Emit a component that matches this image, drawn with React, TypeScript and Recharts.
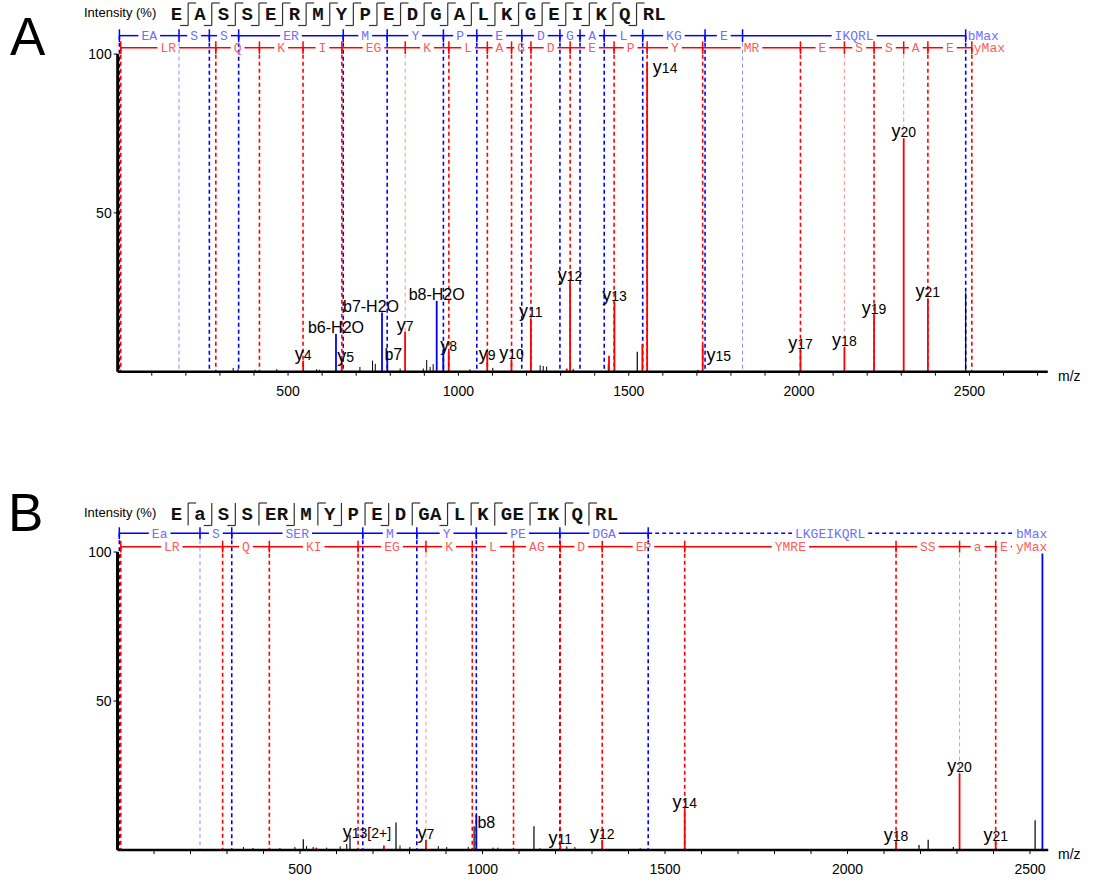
import React from 'react';
import { ComposedChart, XAxis, YAxis, ReferenceLine, Scatter } from 'recharts';

const FIG_W = 1096;
const FIG_H = 882;
const Y_TOP = 110;
const Y_AXIS_W = 40;
const X_AXIS_H = 30;

const BLUE = '#0000ff';
const RED = '#ff0000';
const BLUE_FAINT = '#8c8cff';
const RED_FAINT = '#ff8f8f';
const BLUE_TXT = '#6f6fff';
const RED_TXT = '#ff5c5c';
const MONO = "'Liberation Mono', 'Courier New', monospace";
const SANS = "'Liberation Sans', Arial, sans-serif";
const ROW_CHAR_W = 7.8; // 13px mono advance

// ---------------- panel A ----------------
const residuesA = ['E', 'A', 'S', 'S', 'E', 'R', 'M', 'Y', 'P', 'E', 'D', 'G', 'A', 'L', 'K', 'G', 'E', 'I', 'K', 'Q', 'R', 'L'];
const seqTopHooksA = [1, 2, 3, 4, 5, 6, 7, 8, 9, 10, 11, 12, 13, 14, 15, 16, 17, 18, 19, 20];
const seqBottomHooksA = [1, 2, 3, 4, 5, 6, 7, 8, 9, 10, 11, 12, 13, 14, 15, 16, 17, 18, 19, 20];

const bTicksA = [5, 180, 269, 355, 662, 791, 956, 1054, 1186, 1298, 1357, 1428, 1541, 1724, 1834, 2489];
const bLabelsA = ['EA', 'S', 'S', 'ER', 'M', 'Y', 'P', 'E', 'D', 'G', 'A', 'L', 'KG', 'E', 'IKQRL'];
const bFaintA = [180, 1834];
const yTicksA = [9, 288, 416, 544, 658, 844, 972, 1085, 1156, 1213, 1328, 1457, 1554, 1717, 2004, 2133, 2220, 2307, 2378, 2507];
const yLabelsA = ['LR', 'Q', 'K', 'I', 'EG', 'K', 'L', 'A', 'G', 'D', 'E', 'P', 'Y', 'MR', 'E', 'S', 'S', 'A', 'E'];
const yFaintA = [844, 2133, 2307];

type Peak = { mz: number; int: number; ion: 'y' | 'b' | 'n'; label: string };

const peaksA: Peak[] = [
  { mz: 544.4, int: 3.5, ion: 'y', label: 'y4' },
  { mz: 657.5, int: 2.7, ion: 'y', label: 'y5' },
  { mz: 843.5, int: 12.6, ion: 'y', label: 'y7' },
  { mz: 971.6, int: 6.3, ion: 'y', label: 'y8' },
  { mz: 1084.7, int: 5.8, ion: 'y', label: 'y9' },
  { mz: 1155.7, int: 3.7, ion: 'y', label: 'y10' },
  { mz: 1212.8, int: 16.8, ion: 'y', label: 'y11' },
  { mz: 1318, int: 1, ion: 'y', label: '' },
  { mz: 1327.8, int: 28.3, ion: 'y', label: 'y12' },
  { mz: 1442, int: 5, ion: 'y', label: '' },
  { mz: 1458, int: 22, ion: 'y', label: 'y13' },
  { mz: 1540, int: 8.7, ion: 'y', label: '' },
  { mz: 1554, int: 97.6, ion: 'y', label: 'y14' },
  { mz: 1717, int: 8.4, ion: 'y', label: 'y15' },
  { mz: 2004, int: 6.8, ion: 'y', label: 'y17' },
  { mz: 2133, int: 7.9, ion: 'y', label: 'y18' },
  { mz: 2220, int: 17.8, ion: 'y', label: 'y19' },
  { mz: 2307, int: 73.5, ion: 'y', label: 'y20' },
  { mz: 2378, int: 23.1, ion: 'y', label: 'y21' },
  { mz: 640.7, int: 11.9, ion: 'b', label: 'b6-H2O' },
  { mz: 775.8, int: 18.6, ion: 'b', label: 'b7-H2O' },
  { mz: 791.3, int: 5.8, ion: 'b', label: 'b7' },
  { mz: 936.3, int: 22.3, ion: 'b', label: 'b8-H2O' },
  { mz: 955.7, int: 7.1, ion: 'b', label: '' },
  { mz: 1525, int: 6.3, ion: 'n', label: '' },
  { mz: 2489, int: 24.9, ion: 'n', label: '' },
];

const noiseA: [number, number][] = [
  [339, 1.2], [353, 0.8], [403, 0.6], [467, 0.8], [584, 0.8], [592, 0.6], [711, 1.5], [748, 3.5],
  [756, 2.5], [829, 1], [897, 1], [907, 3.7], [917, 1.5], [926, 2.4], [1034, 0.8], [1101, 1.2],
  [1240, 2], [1249, 1.8], [1259, 1.6], [1337, 0.9], [1440, 2.5], [1703, 0.6],
];

const nudgesA: Record<string, [number, number]> = {
  y14: [18, 12], y15: [16, 17], 'b7-H2O': [-11, 0], b7: [6, 8], y9: [0, 8], y5: [4, 0],
};

// ---------------- panel B ----------------
const residuesB = ['E', 'a', 'S', 'S', 'E', 'R', 'M', 'Y', 'P', 'E', 'D', 'G', 'A', 'L', 'K', 'G', 'E', 'I', 'K', 'Q', 'R', 'L'];
const seqTopHooksB = [1, 4, 7, 9, 11, 13, 14, 15, 17, 19, 20];
const seqBottomHooksB = [2, 3, 6, 8, 10, 13];

const bTicksB = [5, 226, 313, 672, 820, 983, 1212, 1454, 2534];
const bLabelsB = ['Ea', 'S', 'SER', 'M', 'Y', 'PE', 'DGA', 'LKGEIKQRL'];
const bFaintB = [226];
const yTicksB = [9, 288, 416, 659, 845, 972, 1085, 1213, 1328, 1554, 2133, 2307, 2406, 2535];
const yLabelsB = ['LR', 'Q', 'KI', 'EG', 'K', 'L', 'AG', 'D', 'EP', 'YMRE', 'SS', 'a', 'E'];
const yFaintB = [845, 2307];

const peaksB: Peak[] = [
  { mz: 545, int: 0.8, ion: 'y', label: '' },
  { mz: 730, int: 1.5, ion: 'y', label: 'y13[2+]' },
  { mz: 845, int: 3.4, ion: 'y', label: 'y7' },
  { mz: 1213, int: 1.7, ion: 'y', label: 'y11' },
  { mz: 1328, int: 3.4, ion: 'y', label: 'y12' },
  { mz: 1554, int: 13.6, ion: 'y', label: 'y14' },
  { mz: 2133, int: 2.8, ion: 'y', label: 'y18' },
  { mz: 2307, int: 25.7, ion: 'y', label: 'y20' },
  { mz: 2406, int: 2.8, ion: 'y', label: 'y21' },
  { mz: 983, int: 11.7, ion: 'b', label: 'b8' },
  { mz: 2534, int: 99.5, ion: 'b', label: '' },
  { mz: 509, int: 3.6, ion: 'n', label: '' },
  { mz: 637, int: 5, ion: 'n', label: '' },
  { mz: 763, int: 9.2, ion: 'n', label: '' },
  { mz: 977, int: 8, ion: 'n', label: '' },
  { mz: 1141, int: 8, ion: 'n', label: '' },
  { mz: 2196, int: 1.7, ion: 'n', label: '' },
  { mz: 2221, int: 3.4, ion: 'n', label: '' },
  { mz: 2290, int: 1, ion: 'n', label: '' },
  { mz: 2514, int: 10, ion: 'n', label: '' },
];

const noiseB: [number, number][] = [
  [345, 1], [371, 0.7], [445, 0.7], [486, 1], [518, 1.3], [536, 1], [573, 0.8], [610, 1.2],
  [628, 2], [774, 1.5], [801, 1], [879, 1.3], [902, 1], [961, 1], [1029, 0.8], [1042, 0.8],
  [1158, 0.6], [1231, 1.2], [1253, 1], [1432, 0.6],
];

const nudgesB: Record<string, [number, number]> = {
  'y13[2+]': [-17, -7], b8: [10, 14],
};

const xTicksA = [100, 200, 300, 400, 500, 600, 700, 800, 900, 1000, 1100, 1200, 1300, 1400, 1500, 1600, 1700, 1800, 1900, 2000, 2100, 2200, 2300, 2400, 2500, 2600, 2700];
const xTicksB = [100, 200, 300, 400, 500, 600, 700, 800, 900, 1000, 1100, 1200, 1300, 1400, 1500, 1600, 1700, 1800, 1900, 2000, 2100, 2200, 2300, 2400, 2500];
const yTicks = [50, 100];

type RowText = { mz: number; v: number; text: string; anchor: string; color: string };

function buildRow(
  ticks: number[], labels: string[], faint: number[], row: number,
  color: string, faintColor: string, textColor: string,
  ppu: number, xMax: number, maxText: string, endMode: boolean, dashLast: boolean, key: string,
) {
  const lines: React.ReactElement[] = [];
  const dashed: React.ReactElement[] = [];
  const texts: RowText[] = [];
  const last = ticks.length - 1;
  const maxW = maxText.length * ROW_CHAR_W;
  const maxStart = endMode ? xMax - (maxW + 3) / ppu : ticks[last] + 2 / ppu;
  texts.push({
    mz: endMode ? xMax - 1 / ppu : maxStart, v: row, text: maxText,
    anchor: endMode ? 'end' : 'start', color: textColor,
  });
  labels.forEach((lab, i) => {
    const a = ticks[i];
    const isLast = i === labels.length - 1;
    let b = ticks[i + 1];
    if (isLast && endMode) b = Math.min(b, maxStart - 2 / ppu);
    const c = (a + b) / 2;
    const hg = (lab.length * ROW_CHAR_W / 2 + 3) / ppu;
    const dash = isLast && dashLast ? '4 3' : undefined;
    lines.push(
      <ReferenceLine key={`${key}-l${i}`} segment={[{ x: a, y: row }, { x: Math.max(a, c - hg), y: row }]}
        stroke={color} strokeWidth={1.5} strokeDasharray={dash} />,
      <ReferenceLine key={`${key}-r${i}`} segment={[{ x: Math.min(b, c + hg), y: row }, { x: b, y: row }]}
        stroke={color} strokeWidth={1.5} strokeDasharray={dash} />,
    );
    texts.push({ mz: c, v: row, text: lab, anchor: 'middle', color: textColor });
  });
  ticks.forEach((t, i) => {
    if (i === last && endMode) return;
    lines.push(
      <ReferenceLine key={`${key}-t${i}`} segment={[{ x: t, y: row - 2 }, { x: t, y: row + 2 }]}
        stroke={color} strokeWidth={1.5} />,
    );
    const isFaint = faint.includes(t);
    dashed.push(
      <ReferenceLine key={`${key}-d${i}`} segment={[{ x: t, y: row }, { x: t, y: 0 }]}
        stroke={isFaint ? faintColor : color} strokeWidth={isFaint ? 1 : 1.6} strokeDasharray="4 3" />,
    );
  });
  return { lines, dashed, texts };
}

const RowLabel = (props: any) => {
  const { cx, cy, payload } = props;
  return (
    <text x={cx} y={cy} dy="0.33em" textAnchor={payload.anchor} fill={payload.color}
      fontFamily={MONO} fontSize={13}>{payload.text}</text>
  );
};

const PeakLabel = (props: any) => {
  const { cx, cy, payload } = props;
  const [dx, dy] = payload.nudge;
  const lab: string = payload.label;
  if (lab.startsWith('y')) {
    return (
      <text x={cx + dx} y={cy - 1 + dy} textAnchor="middle" fill="#000" fontFamily={SANS}>
        <tspan fontSize={18}>y</tspan>
        <tspan fontSize={14}>{lab.slice(1)}</tspan>
      </text>
    );
  }
  return (
    <text x={cx + dx} y={cy - 1 + dy} textAnchor="middle" fill="#000" fontFamily={SANS} fontSize={16}>{lab}</text>
  );
};

type PanelProps = {
  letter: string; top: number; height: number;
  plotLeft: number; plotRight: number; plotTop: number; plotBottom: number; xMax: number; xTicks: number[];
  residues: string[]; topHooks: number[]; bottomHooks: number[];
  bTicks: number[]; bLabels: string[]; bFaint: number[];
  yTicks: number[]; yLabels: string[]; yFaint: number[];
  bRow: number; yRow: number; endMode: boolean; bDashLast: boolean;
  peaks: Peak[]; noise: [number, number][]; nudges: Record<string, [number, number]>;
};

function Panel(p: PanelProps) {
  const ppu = (p.plotRight - p.plotLeft) / p.xMax;
  const bRowEls = buildRow(p.bTicks, p.bLabels, p.bFaint, p.bRow, BLUE, BLUE_FAINT, BLUE_TXT, ppu, p.xMax, 'bMax', p.endMode, p.bDashLast, `b${p.letter}`);
  const yRowEls = buildRow(p.yTicks, p.yLabels, p.yFaint, p.yRow, RED, RED_FAINT, RED_TXT, ppu, p.xMax, 'yMax', p.endMode, false, `y${p.letter}`);
  const rowTexts = [...bRowEls.texts, ...yRowEls.texts];
  const peakLabels = p.peaks.filter((k) => k.label).map((k) => ({
    mz: k.mz, v: k.int, label: k.label, nudge: p.nudges[k.label] || [0, 0],
  }));
  const ionColor = (ion: string) => (ion === 'y' ? RED : ion === 'b' ? BLUE : '#000');

  // sequence header layout
  const CELL = 11.7;
  const GAP = 11.9;
  const seps = new Set([...p.topHooks, ...p.bottomHooks]);
  const letters: { x: number; ch: string }[] = [];
  const sepXs: { x: number; top: boolean; bottom: boolean }[] = [];
  let x = 170.5;
  p.residues.forEach((ch, i) => {
    letters.push({ x: x + CELL / 2, ch });
    x += CELL;
    const idx = i + 1;
    if (seps.has(idx)) {
      sepXs.push({ x: x + GAP / 2, top: p.topHooks.includes(idx), bottom: p.bottomHooks.includes(idx) });
      x += GAP;
    }
  });

  return (
    <div style={{ position: 'absolute', left: 0, top: p.top, width: FIG_W, height: p.height }}>
      <ComposedChart
        width={FIG_W}
        height={p.height}
        margin={{
          top: p.plotTop,
          left: p.plotLeft - Y_AXIS_W,
          right: FIG_W - p.plotRight,
          bottom: p.height - p.plotBottom - X_AXIS_H,
        }}
      >
        <XAxis type="number" dataKey="mz" domain={[0, p.xMax]} allowDataOverflow ticks={p.xTicks}
          interval={0} height={X_AXIS_H}
          tickFormatter={(v: number) => (v % 500 === 0 ? String(v) : '')}
          axisLine={{ stroke: '#000', strokeWidth: 2.5 }} tickLine={{ stroke: '#000' }}
          tickSize={4} tickMargin={10}
          tick={{ fontSize: 14, fill: '#000', fontFamily: SANS }} />
        <YAxis type="number" dataKey="v" domain={[0, Y_TOP]} allowDataOverflow ticks={yTicks}
          interval={0} width={Y_AXIS_W} axisLine={false} tickLine={{ stroke: '#000' }} tickSize={4}
          tick={{ fontSize: 14, fill: '#000', fontFamily: SANS }} />
        {bRowEls.dashed}
        {yRowEls.dashed}
        {bRowEls.lines}
        {yRowEls.lines}
        {p.noise.map(([mz, v], i) => (
          <ReferenceLine key={`n${i}`} segment={[{ x: mz, y: 0 }, { x: mz, y: v }]} stroke="#000" strokeWidth={1} />
        ))}
        {p.peaks.map((k, i) => (
          <ReferenceLine key={`p${i}`} segment={[{ x: k.mz, y: 0 }, { x: k.mz, y: k.int }]}
            stroke={ionColor(k.ion)} strokeWidth={k.ion === 'n' ? 1.2 : 1.8} />
        ))}
        <ReferenceLine segment={[{ x: 0, y: 0 }, { x: 0, y: 100 }]} stroke="#000" strokeWidth={3} />
        <Scatter data={rowTexts} shape={RowLabel} isAnimationActive={false} />
        <Scatter data={peakLabels} shape={PeakLabel} isAnimationActive={false} />
      </ComposedChart>
      <svg width={FIG_W} height={p.height} style={{ position: 'absolute', left: 0, top: 0, pointerEvents: 'none' }}>
        <text x={84} y={17} fontSize={13} fontFamily={SANS} fill="#000">Intensity (%)</text>
        {letters.map((l, i) => (
          <text key={`s${i}`} x={l.x} y={19.5} textAnchor="middle" fontFamily={MONO} fontWeight="bold"
            fontSize={19} fill="#111">{l.ch}</text>
        ))}
        {sepXs.map((s, i) => (
          <g key={`h${i}`} stroke="#333" strokeWidth={1.2} fill="none">
            <line x1={s.x} y1={3} x2={s.x} y2={25.5} />
            {s.top && <line x1={s.x} y1={3} x2={s.x + 8} y2={3} />}
            {s.bottom && <line x1={s.x - 8} y1={25.5} x2={s.x} y2={25.5} />}
          </g>
        ))}
        <text x={1058} y={p.plotBottom + 9} fontSize={14} fontFamily={SANS} fill="#000">m/z</text>
      </svg>
    </div>
  );
}

export default function App() {
  return (
    <div style={{ position: 'absolute', left: 0, top: 0, width: FIG_W, height: FIG_H, background: '#fff', overflow: 'hidden' }}>
      <Panel
        letter="A" top={0} height={407}
        plotLeft={117.7} plotRight={1047.8} plotTop={22.3} plotBottom={371.7} xMax={2730} xTicks={xTicksA}
        residues={residuesA} topHooks={seqTopHooksA} bottomHooks={seqBottomHooksA}
        bTicks={bTicksA} bLabels={bLabelsA} bFaint={bFaintA}
        yTicks={yTicksA} yLabels={yLabelsA} yFaint={yFaintA}
        bRow={105.8} yRow={102} endMode={false} bDashLast={false}
        peaks={peaksA} noise={noiseA} nudges={nudgesA}
      />
      <Panel
        letter="B" top={500} height={382}
        plotLeft={117.5} plotRight={1048.25} plotTop={22.2} plotBottom={350} xMax={2550} xTicks={xTicksB}
        residues={residuesB} topHooks={seqTopHooksB} bottomHooks={seqBottomHooksB}
        bTicks={bTicksB} bLabels={bLabelsB} bFaint={bFaintB}
        yTicks={yTicksB} yLabels={yLabelsB} yFaint={yFaintB}
        bRow={106.3} yRow={101.8} endMode={true} bDashLast={true}
        peaks={peaksB} noise={noiseB} nudges={nudgesB}
      />
      <svg width={FIG_W} height={FIG_H} style={{ position: 'absolute', left: 0, top: 0, pointerEvents: 'none' }}>
        <text x={10} y={55} fontSize={53} fontFamily={SANS} fill="#000">A</text>
        <text x={8} y={531} fontSize={53} fontFamily={SANS} fill="#000">B</text>
      </svg>
    </div>
  );
}
